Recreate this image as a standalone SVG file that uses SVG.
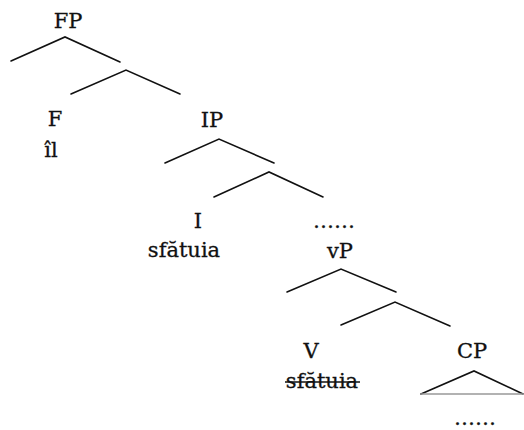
<svg xmlns="http://www.w3.org/2000/svg" width="524" height="430" viewBox="0 0 524 430">
  <style>
    .lbl { font-family: "DejaVu Serif", "Liberation Serif", serif; font-size: 21px; fill: #111; stroke: #111; stroke-width: 0.3; text-anchor: middle; }
    .br { fill: none; stroke: #111; stroke-width: 1.6; stroke-linecap: round; stroke-linejoin: miter; }
  </style>
  <rect width="524" height="430" fill="#fff"/>

  <!-- branches -->
  <g id="connectors">
    <polyline class="br" points="11,61 65,37 120,62"/>
    <polyline class="br" points="71,94 126,70 180,94"/>
    <polyline class="br" points="165,163 219,139 274,163"/>
    <polyline class="br" points="214,197 269,172 323,197"/>
    <polyline class="br" points="287,292 341,269 396,292"/>
    <polyline class="br" points="341,325 395,302 450,326"/>
    <!-- CP triangle -->
    <polyline class="br" points="421,394 474,371 523,394"/>
    <line x1="421" y1="394" x2="523" y2="394" stroke="#999" stroke-width="1.6"/>
  </g>

  <g id="FP"><text class="lbl" x="68" y="28">FP</text></g>
  <g id="F">
    <text class="lbl" x="55" y="126">F</text>
    <text class="lbl" x="51" y="157">îl</text>
  </g>
  <g id="IP"><text class="lbl" x="212" y="127">IP</text></g>
  <g id="I">
    <text class="lbl" x="198" y="228">I</text>
    <text class="lbl" x="184" y="257">sfătuia</text>
  </g>
  <g id="dots1"><text class="lbl" x="334" y="228">……</text></g>
  <g id="vP"><text class="lbl" x="340" y="258">vP</text></g>
  <g id="V">
    <text class="lbl" x="311" y="358">V</text>
    <text class="lbl" x="322" y="388">sfătuia</text>
    <line x1="285" y1="382" x2="360" y2="382" stroke="#111" stroke-width="1.4"/>
  </g>
  <g id="CP"><text class="lbl" x="472" y="358">CP</text></g>
  <g id="dots2"><text class="lbl" x="475" y="425">……</text></g>
</svg>
